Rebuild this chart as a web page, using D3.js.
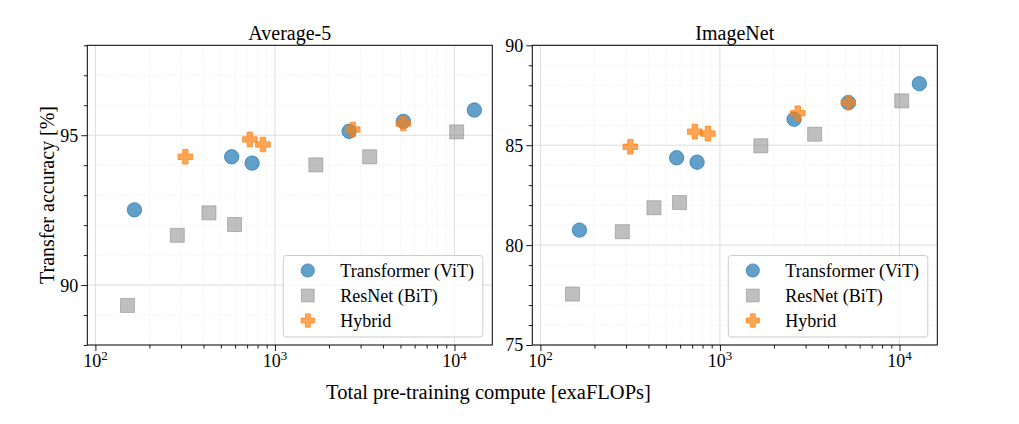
<!DOCTYPE html>
<html><head><meta charset="utf-8">
<script src="https://cdn.jsdelivr.net/npm/d3@7"></script>
<style>
html,body{margin:0;padding:0;background:#fff;}
svg{display:block;font-family:"Liberation Serif","Times New Roman",serif;}
</style></head>
<body>
<svg id="chart" width="1019" height="424"></svg>
<script>
// ---- data ----
const panelTitles = ["Average-5", "ImageNet"];
const seriesNames = ["Transformer (ViT)", "ResNet (BiT)", "Hybrid"];
const computeViT = [165, 574, 746, 2588, 5190, 12900];
const avg5ViT = [92.51, 94.28, 94.07, 95.13, 95.46, 95.84];
const imagenetViT = [80.75, 84.37, 84.15, 86.30, 87.13, 88.08];
const computeBiT = [151, 286, 429, 596, 1690, 3370, 10285];
const avg5BiT = [89.32, 91.66, 92.41, 92.02, 94.01, 94.28, 95.11];
const imagenetBiT = [77.55, 80.67, 81.87, 82.13, 84.97, 85.55, 87.22];
const computeHybrid = [317, 725, 857, 2713, 5190];
const avg5Hybrid = [94.28, 94.86, 94.69, 95.19, 95.39];
const imagenetHybrid = [84.92, 85.68, 85.58, 86.60, 87.13];
const xMajorTicks = [100, 1000, 10000];
const xTickExponents = ["2", "3", "4"];
const avg5YTicks = [90, 95];
const imagenetYTicks = [75, 80, 85, 90];
const xLabel = "Total pre-training compute [exaFLOPs]";
const yLabel = "Transfer accuracy [%]";

// ---- layout ----
const svg = d3.select("#chart");
const plotTop = 45.3, plotBottom = 345, pw = 405;
const panelLefts = [87.3, 532.3];
const xDomain = [Math.pow(10, 1.955), Math.pow(10, 4.2106)];
const yDomains = [[88, 98], [75, 90]];
const yMajors = [avg5YTicks, imagenetYTicks];
const yData = [[avg5ViT, avg5BiT, avg5Hybrid], [imagenetViT, imagenetBiT, imagenetHybrid]];
const xData = [computeViT, computeBiT, computeHybrid];

const styles = [
  {shape: "circle", fill: "rgba(31,119,180,0.7)", stroke: "rgba(31,119,180,0.7)"},
  {shape: "square", fill: "rgba(128,128,128,0.5)", stroke: "rgba(128,128,128,0.5)"},
  {shape: "plus", fill: "rgba(255,127,14,0.7)", stroke: "rgba(255,127,14,0.7)"}
];

function markerPath(shape) {
  if (shape === "circle") return d3.symbol(d3.symbolCircle, Math.PI * 7.2 * 7.2)();
  if (shape === "square") return "M-7,-7H7V7H-7Z";
  const s = 7.3, a = 2.7;
  return `M${-a},${-s}H${a}V${-a}H${s}V${a}H${a}V${s}H${-a}V${a}H${-s}V${-a}H${-a}Z`;
}

panelLefts.forEach((left, pi) => {
  const g = svg.append("g");
  const x = d3.scaleLog().domain(xDomain).range([left, left + pw]);
  const y = d3.scaleLinear().domain(yDomains[pi]).range([plotBottom, plotTop]);

  const xMinor = [];
  [10, 100, 1000, 10000].forEach(d => { for (let k = 2; k <= 9; k++) xMinor.push(d * k); });
  const xMinorIn = xMinor.filter(v => v > xDomain[0] && v < xDomain[1] && !xMajorTicks.includes(v));
  const yMinor = d3.range(yDomains[pi][0], yDomains[pi][1] + 0.001, 1).filter(v => !yMajors[pi].includes(v));

  const grid = g.append("g");
  xMinorIn.forEach(v => grid.append("line").attr("x1", x(v)).attr("x2", x(v)).attr("y1", plotTop).attr("y2", plotBottom)
    .attr("stroke", "#e3e3e3").attr("stroke-width", 0.8).attr("stroke-dasharray", "1,2"));
  yMinor.forEach(v => grid.append("line").attr("x1", left).attr("x2", left + pw).attr("y1", y(v)).attr("y2", y(v))
    .attr("stroke", "#e3e3e3").attr("stroke-width", 0.8).attr("stroke-dasharray", "1,2"));
  xMajorTicks.forEach(v => grid.append("line").attr("x1", x(v)).attr("x2", x(v)).attr("y1", plotTop).attr("y2", plotBottom)
    .attr("stroke", "#dddddd").attr("stroke-width", 1));
  yMajors[pi].forEach(v => grid.append("line").attr("x1", left).attr("x2", left + pw).attr("y1", y(v)).attr("y2", y(v))
    .attr("stroke", "#dddddd").attr("stroke-width", 1));

  const xAxisMinor = d3.axisBottom(x).tickValues(xMinorIn).tickSize(3.5).tickFormat("");
  const xAxisMajor = d3.axisBottom(x).tickValues(xMajorTicks).tickSize(6).tickFormat("");
  [xAxisMinor, xAxisMajor].forEach(ax => {
    const a = g.append("g").attr("transform", `translate(0,${plotBottom})`).call(ax);
    a.select(".domain").remove();
    a.selectAll("line").attr("stroke", "#000").attr("stroke-width", 0.9);
  });
  const yAxisMinor = d3.axisLeft(y).tickValues(yMinor).tickSize(3.5).tickFormat("");
  const yAxisMajor = d3.axisLeft(y).tickValues(yMajors[pi]).tickSize(6).tickFormat(d3.format("d")).tickPadding(3);
  [yAxisMinor, yAxisMajor].forEach(ax => {
    const a = g.append("g").attr("transform", `translate(${left},0)`).call(ax);
    a.select(".domain").remove();
    a.selectAll("line").attr("stroke", "#000").attr("stroke-width", 0.9);
    a.selectAll("text").attr("font-family", "Liberation Serif").attr("font-size", 18).attr("fill", "#000")
      .attr("dy", "0.33em");
  });

  xMajorTicks.forEach((v, i) => {
    const t = g.append("text").attr("x", x(v)).attr("y", 366.5).attr("text-anchor", "middle")
      .attr("font-size", 18).attr("fill", "#000");
    t.append("tspan").text("10");
    t.append("tspan").attr("dy", -7).attr("font-size", 13).text(xTickExponents[i]);
  });

  xData.forEach((xs, si) => {
    const ys = yData[pi][si];
    const pts = xs.map((xv, k) => ({x: xv, y: ys[k]}));
    g.append("g").selectAll("path").data(pts).join("path")
      .attr("d", markerPath(styles[si].shape))
      .attr("transform", d => `translate(${x(d.x)},${y(d.y)})`)
      .attr("fill", styles[si].fill).attr("stroke", styles[si].stroke).attr("stroke-width", 1);
  });

  g.append("rect").attr("x", left).attr("y", plotTop).attr("width", pw).attr("height", plotBottom - plotTop)
    .attr("fill", "none").attr("stroke", "#000").attr("stroke-width", 1);

  g.append("text").attr("x", left + pw / 2).attr("y", 40).attr("text-anchor", "middle")
    .attr("font-size", 20).attr("fill", "#000").text(panelTitles[pi]);

  const lx = left + 196, ly = 255.5, lw = 199.5, lh = 81.5;
  const lg = g.append("g");
  lg.append("rect").attr("x", lx).attr("y", ly).attr("width", lw).attr("height", lh).attr("rx", 3)
    .attr("fill", "rgba(255,255,255,0.8)").attr("stroke", "#cccccc").attr("stroke-width", 1);
  seriesNames.forEach((name, si) => {
    const ry = ly + 15 + si * 25;
    lg.append("path").attr("d", markerPath(styles[si].shape))
      .attr("transform", `translate(${lx + 24.5},${ry}) scale(0.92)`)
      .attr("fill", styles[si].fill).attr("stroke", styles[si].stroke).attr("stroke-width", 1);
    lg.append("text").attr("x", lx + 57).attr("y", ry + 6).attr("font-size", 18).attr("fill", "#000").text(name);
  });
});

svg.append("text").attr("transform", "translate(54,195) rotate(-90)").attr("text-anchor", "middle")
  .attr("font-size", 20).attr("fill", "#000").text(yLabel);
svg.append("text").attr("x", 488.5).attr("y", 399).attr("text-anchor", "middle")
  .attr("font-size", 20.5).attr("fill", "#000").text(xLabel);
</script>
</body></html>
